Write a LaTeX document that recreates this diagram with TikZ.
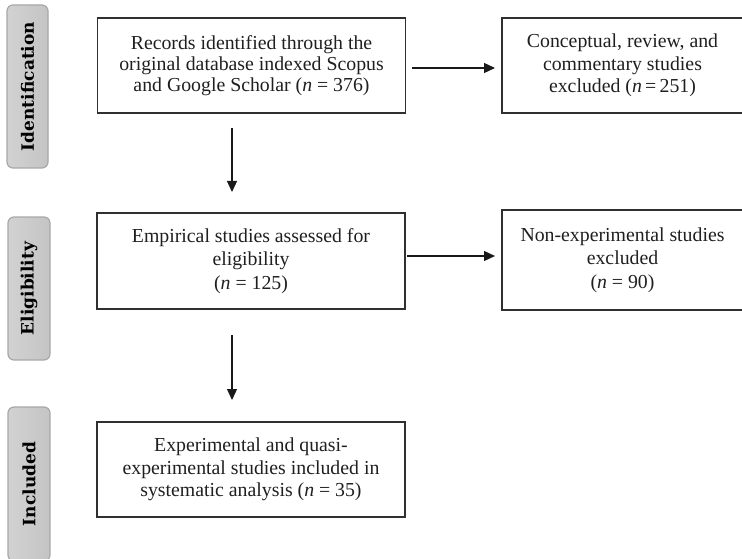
\documentclass[tikz,border=0pt]{standalone}
\usepackage{fontspec}
\setmainfont{Liberation Serif}
\newfontfamily\tabfont{DejaVu Serif}
\usetikzlibrary{arrows.meta,calc}
\definecolor{boxline}{HTML}{303030}
\definecolor{tabline}{HTML}{A8A8A8}
\definecolor{tabfillL}{HTML}{D2D2D2}
\definecolor{tabfillR}{HTML}{C4C4C4}
\tikzset{
  x=1pt,y=1pt,
  stage/.style={draw=tabline,line width=1.2pt,rounded corners=6pt,left color=tabfillL,right color=tabfillR,inner sep=0pt},
  stagetext/.style={rotate=90,font=\tabfont\bfseries\fontsize{17}{20}\selectfont,text=black},
  flowbox/.style={draw=boxline,line width=1.3pt,minimum width=308pt,minimum height=95pt,align=center,inner sep=0pt,font=\fontsize{19.8}{22.5}\selectfont,text=black!88},
  sidebox/.style={draw=boxline,line width=1.3pt,minimum width=241pt,minimum height=95pt,align=center,inner sep=0pt,font=\fontsize{19.8}{22.5}\selectfont,text=black!88},
  flow/.style={draw=black!90,line width=1.2pt,-{Triangle[length=11pt,width=10pt]}}
}
\begin{document}
\begin{tikzpicture}
\useasboundingbox (0,0) rectangle (742,-559);
% stage tabs
\node[stage,minimum width=41pt,minimum height=163pt] (tabI) at (27.5,-86.5) {};
\node[stagetext] (labI) at (tabI.center) {Identification};
\node[stage,minimum width=42pt,minimum height=143pt] (tabE) at (29,-288.5) {};
\node[stagetext] (labE) at (tabE.center) {Eligibility};
\node[stage,minimum width=42pt,minimum height=154pt] (tabN) at (29,-484) {};
\node[stagetext] (labN) at (tabN.center) {Included};
% boxes
\node[flowbox,font=\fontsize{19.8}{21}\selectfont] (rec) at (251.5,-65.5) {Records identified through the\\original database indexed Scopus\\and Google Scholar (\textit{n} = 376)};
\node[sidebox] (con) at (622.5,-65.5) {Conceptual, review, and\\commentary studies\\excluded (\textit{n}\,=\,251)};
\node[flowbox,minimum height=96pt,font=\fontsize{19.8}{23.5}\selectfont] (emp) at (251,-261) {Empirical studies assessed for\\eligibility\\(\textit{n} = 125)};
\node[sidebox,minimum height=100pt,font=\fontsize{19.8}{23.5}\selectfont] (non) at (622.5,-260) {Non-experimental studies\\excluded\\(\textit{n} = 90)};
\node[flowbox] (inc) at (251,-469.5) {Experimental and quasi-\\experimental studies included in\\systematic analysis (\textit{n} = 35)};
% arrow end points
\coordinate (a1s) at (412,-68);
\coordinate (a1e) at (495,-68);
\coordinate (a2s) at (232,-128);
\coordinate (a2e) at (232,-192);
\coordinate (a3s) at (407,-256);
\coordinate (a3e) at (495,-256);
\coordinate (a4s) at (232,-335);
\coordinate (a4e) at (232,-400);
\draw[flow] (a1s) -- (a1e);
\draw[flow] (a2s) -- (a2e);
\draw[flow] (a3s) -- (a3e);
\draw[flow] (a4s) -- (a4e);
\end{tikzpicture}
\end{document}
